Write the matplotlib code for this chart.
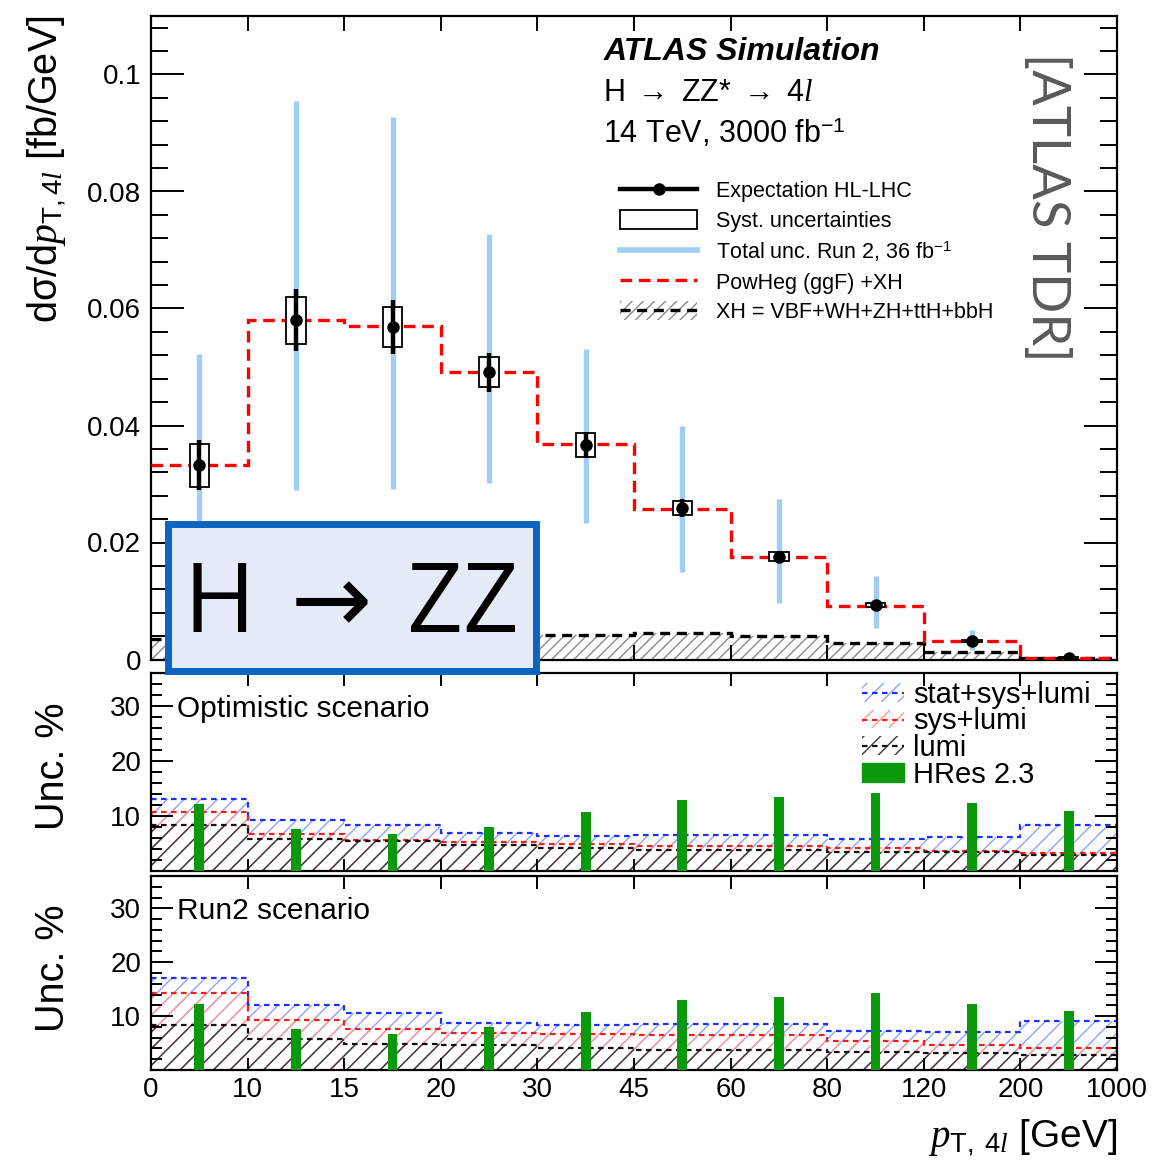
import numpy as np
import matplotlib
matplotlib.use('Agg')
import matplotlib.pyplot as plt
from matplotlib.patches import Patch, Rectangle
from matplotlib.lines import Line2D
from matplotlib.ticker import MultipleLocator

plt.rcParams['font.family'] = ['Liberation Sans', 'DejaVu Sans']
plt.rcParams['mathtext.fontset'] = 'custom'
plt.rcParams['mathtext.rm'] = 'Liberation Sans'
plt.rcParams['mathtext.it'] = 'Liberation Serif:italic'
plt.rcParams['mathtext.bf'] = 'Liberation Sans:bold'

# ---------------- data ----------------
bin_edges = ['0', '10', '15', '20', '30', '45', '60', '80', '120', '200', '1000']
expected = [0.0332, 0.0580, 0.0569, 0.0491, 0.0367, 0.0259, 0.0176, 0.0093, 0.0032, 0.0003]
stat_err = [0.0043, 0.0053, 0.0046, 0.0033, 0.0022, 0.0015, 0.0010, 0.0006, 0.0003, 0.0002]
syst_err = [0.0037, 0.0040, 0.0034, 0.0026, 0.0020, 0.0012, 0.0008, 0.0004, 0.0002, 0.0001]
run2_up = [0.0522, 0.0955, 0.0928, 0.0727, 0.0531, 0.0399, 0.0275, 0.0142, 0.0050, 0.0005]
run2_down = [0.0145, 0.0290, 0.0291, 0.0302, 0.0234, 0.0150, 0.0097, 0.0053, 0.0016, 0.0001]
powheg_xh = [0.0332, 0.0580, 0.0570, 0.0492, 0.0368, 0.0258, 0.0175, 0.0092, 0.0031, 0.0002]
xh = [0.0035, 0.0040, 0.0042, 0.0043, 0.0042, 0.0045, 0.0041, 0.0029, 0.0012, 0.0002]

opt_total = [13.1, 9.3, 8.4, 6.9, 6.3, 6.6, 6.6, 5.9, 6.2, 8.4]
opt_sys = [10.7, 6.8, 5.7, 5.2, 4.9, 4.6, 4.5, 4.1, 3.6, 3.2]
opt_lumi = [8.3, 5.8, 5.4, 4.7, 4.2, 3.8, 3.8, 3.4, 3.4, 3.0]
r2_total = [17.0, 12.0, 10.5, 8.8, 8.3, 8.5, 8.5, 7.3, 7.1, 9.1]
r2_sys = [14.3, 9.3, 7.7, 6.9, 6.6, 6.5, 6.5, 5.4, 4.6, 4.0]
r2_lumi = [8.3, 5.7, 4.9, 4.6, 4.1, 3.7, 3.7, 3.4, 3.2, 2.8]
hres = [12.2, 7.7, 6.7, 8.0, 10.7, 13.0, 13.5, 14.2, 12.3, 11.0]

# ---------------- figure ----------------
W_PX, H_PX = 1162, 1170
fig = plt.figure(figsize=(W_PX / 100, H_PX / 100), dpi=100)

def fx(x):
    return x / W_PX

def fy(y):
    return 1 - y / H_PX

L, R = 151, 1117
def fbox(top, bottom):
    return [fx(L), fy(bottom), (R - L) / W_PX, (bottom - top) / H_PX]

ax1 = fig.add_axes(fbox(16, 659.5))
ax2 = fig.add_axes(fbox(673, 871))
ax3 = fig.add_axes(fbox(876, 1070))

nb = len(expected)
edges_pos = np.arange(nb + 1)
centers = edges_pos[:-1] + 0.5
exp_a = np.array(expected)
syst_a = np.array(syst_err)

blue_unc = '#a0cdf8'
hatch_blue, line_blue = '#8ea2ff', '#1f2fff'
hatch_red, line_red = '#ff9a9a', '#ff1a1a'
hatch_blk, line_blk = '#3a3a3a', '#111111'

# ---------------- top panel ----------------
ax1.stairs(xh, edges_pos, fill=True, facecolor='none', edgecolor='#8a8a8a',
           hatch='///', linewidth=0, zorder=1)
ax1.stairs(xh, edges_pos, baseline=None, color='black', lw=2.4,
           ls=(0, (3, 2)), zorder=2)
ax1.stairs(powheg_xh, edges_pos, baseline=None, color='#ff0000', lw=2.4,
           ls=(0, (3.5, 2)), zorder=3)
ax1.vlines(centers, run2_down, run2_up, color=blue_unc, lw=3.8, zorder=4)
ax1.bar(centers, 2 * syst_a, bottom=exp_a - syst_a, width=0.2,
        facecolor='white', edgecolor='black', lw=1.3, zorder=5)
ax1.errorbar(centers, expected, yerr=stat_err, fmt='o', color='black', ms=8,
             elinewidth=3.2, capsize=0, zorder=6)

ax1.set_ylim(0, 0.110)
yt = [0, 0.02, 0.04, 0.06, 0.08, 0.1]
ax1.set_yticks(yt)
ax1.set_yticklabels(['0', '0.02', '0.04', '0.06', '0.08', '0.1'], fontsize=20)
ax1.yaxis.set_minor_locator(MultipleLocator(0.004))

# ---------------- lower panels ----------------
def unc_panel(ax, total, sys_, lumi, label):
    ax.stairs(total, edges_pos, fill=True, facecolor='none', edgecolor=hatch_blue,
              hatch='//', linewidth=0, zorder=1)
    ax.stairs(sys_, edges_pos, fill=True, facecolor='none', edgecolor=hatch_red,
              hatch='//', linewidth=0, zorder=1)
    ax.stairs(lumi, edges_pos, fill=True, facecolor='none', edgecolor=hatch_blk,
              hatch='//', linewidth=0, zorder=1)
    ax.stairs(total, edges_pos, baseline=None, color=line_blue, lw=1.6,
              ls=(0, (2.5, 2)), zorder=2)
    ax.stairs(sys_, edges_pos, baseline=None, color=line_red, lw=1.6,
              ls=(0, (2.5, 2)), zorder=2)
    ax.stairs(lumi, edges_pos, baseline=None, color=line_blk, lw=1.6,
              ls=(0, (2.5, 2)), zorder=2)
    ax.bar(centers, hres, width=0.1, color='#0a990a', zorder=4)
    ax.set_ylim(0, 36)
    ax.set_yticks([10, 20, 30])
    ax.set_yticklabels(['10', '20', '30'], fontsize=20)
    ax.yaxis.set_minor_locator(MultipleLocator(2))
    ax.text(0.027, 0.82, label, transform=ax.transAxes, fontsize=21.5,
            ha='left', va='center', zorder=6)

unc_panel(ax2, opt_total, opt_sys, opt_lumi, 'Optimistic scenario')
unc_panel(ax3, r2_total, r2_sys, r2_lumi, 'Run2 scenario')

# ---------------- axes styling ----------------
for ax in (ax1, ax2, ax3):
    ax.set_xlim(0, nb)
    ax.set_xticks(edges_pos)
    ax.tick_params(axis='both', which='both', direction='in', top=True,
                   right=True, width=1.4, colors='black')
    for s in ax.spines.values():
        s.set_linewidth(1.6)
ax1.tick_params(axis='y', which='major', length=24, pad=7)
ax1.tick_params(axis='y', which='minor', length=12)
ax1.tick_params(axis='x', which='major', length=11)
for ax in (ax2, ax3):
    ax.tick_params(axis='y', which='major', length=16, pad=7)
    ax.tick_params(axis='y', which='minor', length=8)
    ax.tick_params(axis='x', which='major', length=9)
ax1.set_xticklabels([])
ax2.set_xticklabels([])
ax3.set_xticklabels(bin_edges, fontsize=20)
ax3.tick_params(axis='x', pad=5)

# ---------------- legends ----------------
h1 = Line2D([], [], color='black', lw=3.2, marker='o', ms=8)
h2 = Patch(facecolor='white', edgecolor='black', lw=1.3)
h3 = Line2D([], [], color=blue_unc, lw=4)
h4 = Line2D([], [], color='#ff0000', lw=2.4, ls=(0, (3.5, 2)))
h5 = (Patch(facecolor='none', edgecolor='#8a8a8a', hatch='///', lw=0),
      Line2D([], [], color='black', lw=2.4, ls=(0, (3, 2))))
ax1.legend([h1, h2, h3, h4, h5],
           ['Expectation HL-LHC', 'Syst. uncertainties',
            'Total unc. Run 2, 36 fb$^{-1}$', 'PowHeg (ggF) +XH',
            'XH = VBF+WH+ZH+ttH+bbH'],
           loc='upper left', bbox_to_anchor=(0.4855, 0.745), frameon=False,
           fontsize=15.5, handlelength=3.6, handletextpad=0.85,
           labelspacing=0.355, borderpad=0, borderaxespad=0, handleheight=1.0)

g1 = (Patch(facecolor='none', edgecolor=hatch_blue, hatch='//', lw=0),
      Line2D([], [], color=line_blue, lw=1.6, ls=(0, (2.5, 2))))
g2 = (Patch(facecolor='none', edgecolor=hatch_red, hatch='//', lw=0),
      Line2D([], [], color=line_red, lw=1.6, ls=(0, (2.5, 2))))
g3 = (Patch(facecolor='none', edgecolor=hatch_blk, hatch='//', lw=0),
      Line2D([], [], color=line_blk, lw=1.6, ls=(0, (2.5, 2))))
g4 = Patch(facecolor='#0a990a', edgecolor='#0a990a')
ax2.legend([g1, g2, g3, g4], ['stat+sys+lumi', 'sys+lumi', 'lumi', 'HRes 2.3'],
           loc='upper left', bbox_to_anchor=(0.736, 0.96), frameon=False,
           fontsize=21, handlelength=1.45, handletextpad=0.3,
           labelspacing=-0.05, borderpad=0, borderaxespad=0, handleheight=0.6)

# ---------------- texts ----------------
fig.text(fx(604), fy(52), 'ATLAS Simulation', fontsize=23, fontweight='bold',
         fontstyle='italic', ha='left', va='center')
fig.text(fx(603), fy(93), r'H $\rightarrow$ ZZ* $\rightarrow$ 4$l$', fontsize=22,
         ha='left', va='center')
fig.text(fx(603), fy(133), r'14 TeV, 3000 fb$^{-1}$', fontsize=22,
         ha='left', va='center')
fig.text(fx(1047), fy(207), '[ATLAS TDR]', rotation=-90, ha='center',
         va='center', fontsize=38, color='#5a5a5a', family=['Lato', 'DejaVu Sans'],
         fontweight='normal')

fig.text(fx(26), fy(15), 'd\u03c3/d$p_{\\mathrm{T},4l}$ [fb/GeV]', rotation=90,
         ha='left', va='top', fontsize=28.5)
fig.text(fx(53), fy(766), 'Unc. %', rotation=90, ha='center', va='center',
         fontsize=28.5)
fig.text(fx(53), fy(968), 'Unc. %', rotation=90, ha='center', va='center',
         fontsize=28.5)
fig.text(fx(1117), fy(1148), r'$p_{\mathrm{T,\ 4}l}$ [GeV]', ha='right',
         va='baseline', fontsize=28)

# ---------------- H -> ZZ box ----------------
fig.add_artist(Rectangle((fx(167.5), fy(670.5)), (535.5 - 167.5) / W_PX,
                         (670.5 - 524) / H_PX, transform=fig.transFigure,
                         facecolor='#e4ebf7', edgecolor='#0a64c0', lw=5,
                         zorder=10))
fig.text(fx(351.5), fy(632), 'H \u200a\u2192 \u200aZZ', fontsize=70,
         family=['Open Sans', 'DejaVu Sans'], ha='center', va='baseline',
         zorder=11)

fig.savefig('out.png', dpi=100)
